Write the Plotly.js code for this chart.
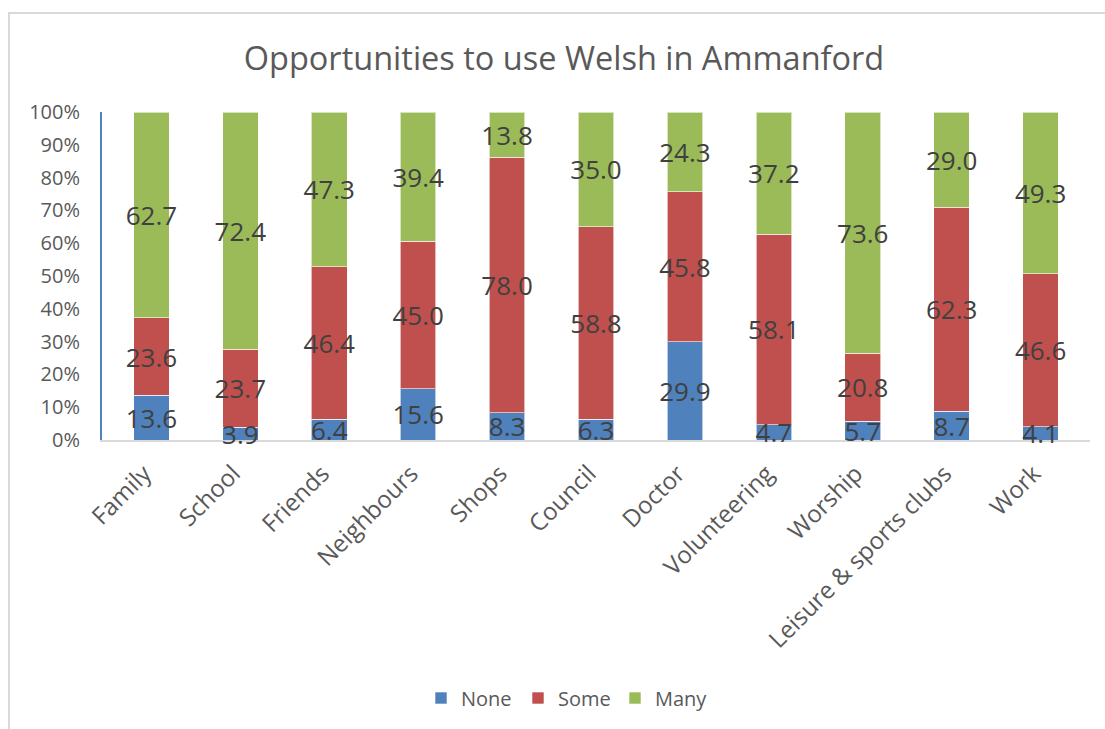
<!DOCTYPE html>
<html>
<head>
<meta charset="utf-8">
<script src="https://cdn.plot.ly/plotly-3.0.1.min.js"></script>
<style>
html,body{margin:0;padding:0;background:#fff;}
#chart{width:1105px;height:729px;}
</style>
</head>
<body>
<div id="chart"></div>
<script>
const categories = ["Family","School","Friends","Neighbours","Shops","Council","Doctor","Volunteering","Worship","Leisure & sports clubs","Work"];
const none = [13.6, 3.9, 6.4, 15.6, 8.3, 6.3, 29.9, 4.7, 5.7, 8.7, 4.1];
const some = [23.6, 23.7, 46.4, 45.0, 78.0, 58.8, 45.8, 58.1, 20.8, 62.3, 46.6];
const many = [62.7, 72.4, 47.3, 39.4, 13.8, 35.0, 24.3, 37.2, 73.6, 29.0, 49.3];
const yTickVals = [0,10,20,30,40,50,60,70,80,90,100];
const yTickText = ["0%","10%","20%","30%","40%","50%","60%","70%","80%","90%","100%"];

const FONT = "Open Sans, sans-serif";
const L=102, R=1090, T=112, B=440, W=1105, H=729;
const pw=R-L, ph=B-T;

const series = [
  {name:"None", vals:none, color:"#4f81bd"},
  {name:"Some", vals:some, color:"#c0504d"},
  {name:"Many", vals:many, color:"#9bbb59"}
];
const totals = categories.map((c,i)=>none[i]+some[i]+many[i]);
const labelNudge = 3.5/ph*100; // text sits slightly lower, as in the original

const data = [];
series.forEach(s=>{
  data.push({
    type:"bar", name:s.name, x:categories, y:s.vals,
    marker:{color:s.color, line:{width:1, color:"rgba(255,255,255,0.6)"}},
    textposition:"none", hoverinfo:"skip"
  });
});
// data labels: centred in each (normalised) segment
series.forEach((s,k)=>{
  const mids = categories.map((c,i)=>{
    let base = 0;
    for(let j=0;j<k;j++) base += series[j].vals[i];
    return (base + s.vals[i]/2)/totals[i]*100 - labelNudge;
  });
  data.push({
    type:"scatter", mode:"text", x:categories, y:mids,
    text:s.vals.map(v=>v.toFixed(1)),
    textposition:"middle center",
    textfont:{family:FONT, size:26, color:"#404040"},
    cliponaxis:false, showlegend:false, hoverinfo:"skip"
  });
});

const layout = {
  width:W, height:H,
  margin:{l:L, r:W-R, t:T, b:H-B, pad:0},
  paper_bgcolor:"#fff", plot_bgcolor:"#fff",
  barmode:"stack", barnorm:"percent", bargap:0.6,
  showlegend:true,
  title:{text:"Opportunities to use Welsh in Ammanford", font:{family:FONT, size:32.5, color:"#595959"},
    xref:"paper", x:(564-L)/pw, xanchor:"center", y:1-59/H, yanchor:"middle"},
  xaxis:{
    tickangle:-45, tickfont:{family:FONT, size:24, color:"#595959"},
    showline:true, linecolor:"#d9d9d9", linewidth:2, ticks:"", showgrid:false, zeroline:false,
    layer:"below traces", ticklabelstandoff:8, ticklabelshift:-7,
    automargin:false
  },
  yaxis:{
    range:[0,100], tickvals:yTickVals, ticktext:yTickText,
    tickfont:{family:FONT, size:20, color:"#595959"},
    showline:true, linecolor:"#4f81bd", linewidth:2, ticks:"", showgrid:false, zeroline:false,
    layer:"below traces", ticklabelstandoff:16, automargin:false
  },
  legend:{orientation:"h", x:(421-L)/pw, xanchor:"left", y:(B-698)/ph, yanchor:"middle",
    font:{family:FONT, size:20, color:"#595959"}, traceorder:"normal",
    itemwidth:30, entrywidth:52, entrywidthmode:"pixels"},
  shapes:[{
    type:"rect", xref:"paper", yref:"paper",
    x0:(9-L)/pw, x1:(1110-L)/pw, y0:(B-740)/ph, y1:(B-13)/ph,
    line:{color:"#d9d9d9", width:2}, fillcolor:"rgba(0,0,0,0)", layer:"below"
  }]
};
Plotly.newPlot("chart", data, layout, {displayModeBar:false, staticPlot:true});
</script>
</body>
</html>
